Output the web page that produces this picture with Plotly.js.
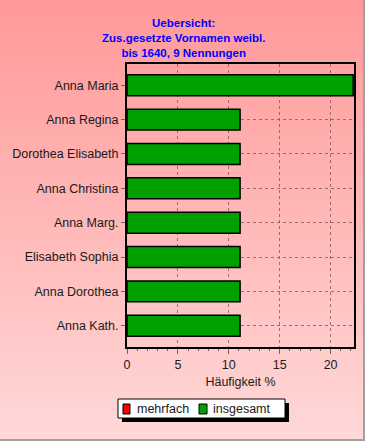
<!DOCTYPE html>
<html><head><meta charset="utf-8">
<script src="https://cdn.plot.ly/plotly-3.0.1.min.js"></script>
<style>
html,body{margin:0;padding:0;}
#wrap{position:relative;width:365px;height:441px;box-sizing:border-box;border-right:2px solid #a0a0a0;border-bottom:2px solid #a0a0a0;background:linear-gradient(to bottom,#ff9999 0%,#ffb8b8 50%,#ffd8d8 100%);}
#chart{position:absolute;left:0;top:0;width:365px;height:441px;}
</style></head>
<body><div id="wrap"><div id="chart"></div></div>
<script>
const categories = ["Anna Maria","Anna Regina","Dorothea Elisabeth","Anna Christina","Anna Marg.","Elisabeth Sophia","Anna Dorothea","Anna Kath."];
const mehrfach = [0,0,0,0,0,0,0,0];
const insgesamt = [22.22,11.11,11.11,11.11,11.11,11.11,11.11,11.11];
const xTicks = [0,5,10,15,20];
const seriesNames = ["mehrfach","insgesamt"];
const seriesColors = ["#ff0000","#00a000"];
const titleLines = ["Uebersicht:","Zus.gesetzte Vornamen weibl.","bis 1640, 9 Nennungen"];

// plot area in pixels
const L=127, R=354, T=64, B=347;
const px = x => (x-L)/(R-L);
const py = y => (B-y)/(B-T);

const font = {family:"Liberation Sans, Arial, sans-serif", size:12.5, color:"#1a1a1a"};
const traces = [
  {type:"bar", orientation:"h", name:seriesNames[0], y:categories, x:mehrfach,
   marker:{color:seriesColors[0], line:{color:"#000", width:1.5}}, hoverinfo:"skip"},
  {type:"bar", orientation:"h", name:seriesNames[1], y:categories, x:insgesamt,
   marker:{color:seriesColors[1], line:{color:"#000", width:1.5}}, hoverinfo:"skip"}
];

const annotations = [{
  text:"<b>"+titleLines.join("<br>")+"</b>", xref:"paper", yref:"paper", x:px(183), y:py(37.5),
  xanchor:"center", yanchor:"middle", align:"center", showarrow:false,
  font:{family:"Liberation Sans, Arial, sans-serif", size:11.5, color:"#0000ff"}
}];
const legendTextX = [135, 211];
const legendSymX = [[123,130],[199,207]];
seriesNames.forEach((n,i)=>{
  annotations.push({text:n, xref:"paper", yref:"paper", x:px(legendTextX[i]), y:py(409),
    xanchor:"left", yanchor:"middle", showarrow:false, font:font});
});
const shapes = [
  {type:"rect", xref:"paper", yref:"paper", x0:px(122), x1:px(289), y0:py(422), y1:py(403),
   fillcolor:"#000", line:{width:0}, layer:"above"},
  {type:"rect", xref:"paper", yref:"paper", x0:px(118), x1:px(285), y0:py(418), y1:py(399),
   fillcolor:"#fff", line:{color:"#000", width:1}, layer:"above"}
];
seriesColors.forEach((c,i)=>{
  shapes.push({type:"rect", xref:"paper", yref:"paper", x0:px(legendSymX[i][0]), x1:px(legendSymX[i][1]),
    y0:py(414), y1:py(404), fillcolor:c, line:{color:"#000", width:1}, layer:"above"});
});

const layout = {
  width:365, height:441,
  paper_bgcolor:"rgba(0,0,0,0)", plot_bgcolor:"rgba(0,0,0,0)",
  margin:{l:L, r:365-R, t:T, b:441-B},
  font:font,
  barmode:"overlay", bargap:0.39,
  xaxis:{range:[0,22.3], tickvals:xTicks, ticktext:xTicks.map(String),
    showgrid:true, gridcolor:"rgba(130,90,90,0.8)", griddash:"3px,3px", gridwidth:1,
    showline:true, linecolor:"#000", linewidth:2, mirror:true, zeroline:false,
    ticks:"outside", ticklen:5, tickcolor:"#666",
    minor:{dtick:1, ticks:"outside", ticklen:2, tickcolor:"#666", showgrid:false},
    title:{text:"Häufigkeit %", font:font, standoff:6}, fixedrange:true},
  yaxis:{range:[7.62,-0.62], showgrid:true, gridcolor:"rgba(130,90,90,0.8)", griddash:"3px,3px",
    showline:true, linecolor:"#000", linewidth:2, mirror:true, zeroline:false,
    ticks:"outside", ticklen:4, tickcolor:"#666", fixedrange:true},
  showlegend:false,
  annotations:annotations,
  shapes:shapes
};
Plotly.newPlot("chart", traces, layout, {displayModeBar:false, staticPlot:true});
</script></body></html>
